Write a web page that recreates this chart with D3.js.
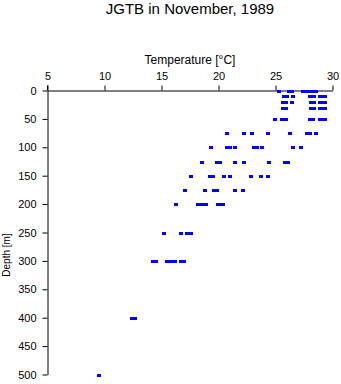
<!DOCTYPE html>
<html>
<head>
<meta charset="utf-8">
<script src="https://cdn.jsdelivr.net/npm/d3@7"></script>
<style>
  html, body { margin: 0; padding: 0; background: #fff; }
  svg { display: block; }
  text { font-family: "Liberation Sans", Arial, Helvetica, sans-serif; fill: #000; }
</style>
</head>
<body>
<div id="chart"></div>
<script>
// ---- data ----
const title = "JGTB in November, 1989";
const xLabel = "Temperature [\u00B0C]";
const yLabel = "Depth [m]";
const xTicks = [5, 10, 15, 20, 25, 30];
const yTicks = [0, 50, 100, 150, 200, 250, 300, 350, 400, 450, 500];

const depths = [0, 10, 20, 30, 50, 75, 100, 125, 150, 175, 200, 250, 300, 400, 500];
const temp0   = [25.32, 26.18, 26.44, 27.41, 27.67, 28.02, 28.33, 28.59];
const temp10  = [25.74, 26.05, 26.55, 28.07, 28.37, 28.86, 29.12, 29.38];
const temp20  = [25.65, 25.96, 26.48, 28.11, 28.37, 28.86, 29.12, 29.38];
const temp30  = [25.65, 25.96, 28.11, 28.37, 28.86, 29.12, 29.38];
const temp50  = [24.96, 25.56, 25.96, 28.02, 28.33, 28.86, 29.12, 29.38];
const temp75  = [20.71, 22.21, 22.97, 24.31, 26.25, 27.72, 28.07, 28.59];
const temp100 = [19.31, 20.77, 21.04, 21.48, 23.10, 23.37, 23.85, 26.51, 27.21];
const temp125 = [18.51, 19.89, 20.16, 21.41, 22.21, 24.40, 25.83, 26.09];
const temp150 = [17.55, 19.28, 19.54, 20.48, 21.04, 22.82, 23.70, 24.31];
const temp175 = [17.06, 18.84, 19.59, 19.85, 21.48, 22.12];
const temp200 = [16.29, 18.18, 18.44, 18.71, 18.93, 19.94, 20.16, 20.38];
const temp250 = [15.24, 16.70, 17.21, 17.61];
const temp300 = [14.27, 14.49, 15.50, 15.85, 16.20, 16.73, 16.99];
const temp400 = [12.43, 12.69];
const temp500 = [9.53];

const tempsByDepth = [temp0, temp10, temp20, temp30, temp50, temp75, temp100,
  temp125, temp150, temp175, temp200, temp250, temp300, temp400, temp500];

const points = [];
depths.forEach((d, i) => tempsByDepth[i].forEach(t => points.push({depth: d, temp: t})));

// ---- layout ----
const W = 341, H = 384;
const svg = d3.select("#chart").append("svg").attr("width", W).attr("height", H);

const x = d3.scaleLinear().domain([5, 30]).range([47.5, 332.5]);
const y = d3.scaleLinear().domain([0, 500]).range([90.5, 374.5]);

// title
svg.append("text")
  .attr("x", 190).attr("y", 13.5)
  .attr("text-anchor", "middle")
  .style("font-size", "15px")
  .text(title);

// x axis (top)
const xAxis = d3.axisTop(x).tickValues(xTicks).tickSize(5).tickSizeOuter(0).tickPadding(6);
const gx = svg.append("g").attr("transform", "translate(0,90.5)").call(xAxis);
gx.selectAll("text").style("font-size", "11px").attr("fill", "#000");
gx.selectAll("line,path").attr("stroke", "#000");

svg.append("text")
  .attr("x", 190).attr("y", 63.5)
  .attr("text-anchor", "middle")
  .style("font-size", "12px")
  .text(xLabel);

// y axis (left)
const yAxis = d3.axisLeft(y).tickValues(yTicks).tickSize(5).tickSizeOuter(0).tickPadding(6);
const gy = svg.append("g").attr("transform", "translate(47.5,0)").call(yAxis);
gy.selectAll("text").style("font-size", "11px").attr("fill", "#000");
gy.selectAll("line,path").attr("stroke", "#000");
// extend y axis line up to the top of the x ticks
gy.append("line").attr("x1", 0).attr("x2", 0).attr("y1", y(0) - 5).attr("y2", y(0)).attr("stroke", "#000");

svg.append("text")
  .attr("transform", "translate(9.5,255) rotate(-90)")
  .attr("text-anchor", "middle")
  .style("font-size", "10px")
  .text(yLabel);

// points
svg.append("g").selectAll("rect").data(points).join("rect")
  .attr("x", d => Math.round(x(d.temp)) - 2)
  .attr("y", d => Math.round(y(d.depth)) - 1.5)
  .attr("width", 4).attr("height", 3)
  .attr("fill", "#0000ff")
  .attr("shape-rendering", "crispEdges");
</script>
</body>
</html>
